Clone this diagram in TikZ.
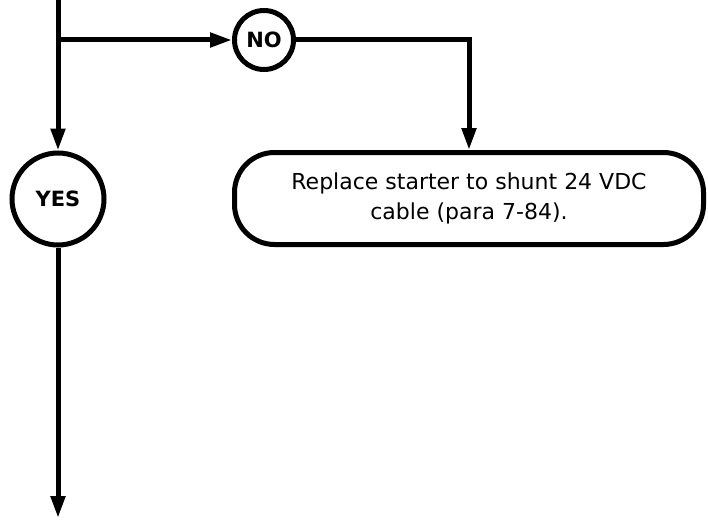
\documentclass[tikz,border=0pt]{standalone}
\usepackage{fontspec}
\setmainfont{DejaVu Sans}
\usepackage{tikz}
\usetikzlibrary{arrows.meta,positioning,calc}

\tikzset{
  answer/.style={circle, draw=black, line width=5pt, inner sep=0pt, font=\fontsize{21}{24}\selectfont\bfseries},
  actionbox/.style={rectangle, rounded corners=40pt, draw=black, line width=5pt, align=center,
    minimum width=469pt, minimum height=92pt, font=\fontsize{22}{30}\selectfont},
  flow/.style={line width=5pt, -{Triangle[length=22pt,width=14pt]}}
}

\begin{document}
\begin{tikzpicture}[x=1pt,y=-1pt]
  \useasboundingbox (0,0) rectangle (708,519);

  % Branch points
  \coordinate (start) at (58,-3);
  \coordinate (branch) at (58,40);
  \coordinate (finish) at (58,518);

  % Answers
  \node[answer, minimum size=59pt] (no) at (264,40) {NO};
  \node[answer, minimum size=92pt] (yes) at (58,199) {YES};

  % Action
  \node[actionbox] (replace) at (469,198.5) {Replace starter to shunt 24 VDC\\cable (para 7-84).};

  % Connectors
  \draw[flow] (start) -- (yes.north);
  \draw[flow] (branch) -- (no.west);
  \draw[flow] (no.east) -| (replace.north);
  \draw[flow] (yes.south) -- (finish);
\end{tikzpicture}
\end{document}
